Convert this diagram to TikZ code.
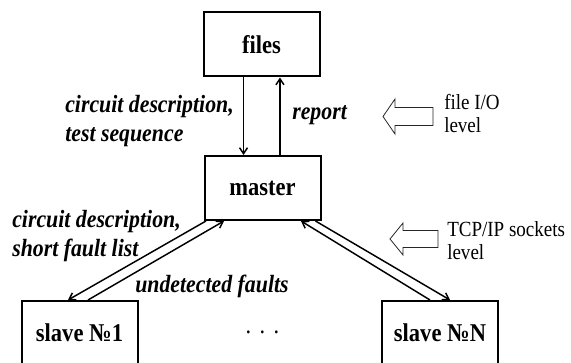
\documentclass[tikz,border=0pt]{standalone}
\usepackage{fontspec}
\setmainfont{Liberation Serif}[FakeStretch=0.88]
\usetikzlibrary{arrows.meta,calc}
\begin{document}
\begin{tikzpicture}[x=0.75pt,y=-0.75pt,
  box/.style={draw, line width=1.5pt, minimum width=87pt, minimum height=48pt, inner sep=0pt,
    font=\fontsize{19.2}{22}\selectfont\bfseries},
  lbl/.style={font=\fontsize{18.6}{21.75}\selectfont\bfseries\itshape, inner sep=0pt, align=left},
  lvl/.style={font=\fontsize{16.2}{17.25}\selectfont, inner sep=0pt, align=left},
  conn/.style={line width=1.1pt, -{Straight Barb[length=4.5pt,width=6pt]}},
  hollow/.style={draw=black!85, line width=0.6pt}]
\useasboundingbox (0,0) rectangle (571,363);
\fill[white] (0,0) rectangle (571,363);
\clip (0,0) rectangle (571,363);

\node[box] (files) at (261.5,44.5) {files};
\node[box] (master) at (262.5,188) {master};
\node[box] (slave1) at (79.5,333) {slave №1};
\node[box] (slaveN) at (440,333) {slave №N};

\draw[conn] ([xshift=-13.5pt]files.south) -- ([xshift=-13.5pt]files.south |- master.north);
\draw[conn] ([xshift=13.1pt]master.north) -- ([xshift=13.1pt]master.north |- files.south);

\draw[conn] ($(master.south west)+(2.5,0)$) -- ($(slave1.north)+(-11.5,0)$);
\draw[conn] ($(slave1.north)+(8.5,0)$) -- ($(master.south west)+(20.5,0)$);
\draw[conn] ($(slaveN.north)+(-10,0)$) -- ($(master.south east)+(-20.5,0)$);
\draw[conn] ($(master.south east)+(-6,0)$) -- ($(slaveN.north)+(10,0)$);

\draw[hollow] (383,116.5) -- (395,99) -- (395,107.5) -- (433,107.5) -- (433,125.5) -- (395,125.5) -- (395,134) -- cycle;
\draw[hollow] (390,239) -- (403,223) -- (403,230.5) -- (438,230.5) -- (438,247.5) -- (403,247.5) -- (403,255) -- cycle;

\node[lbl, anchor=base west] (l1) at (65,142) {circuit description,\\test sequence};
\node[lbl, anchor=base west] (l2) at (292,120) {report};
\node[lbl, anchor=base west] (l3) at (12,257) {circuit description,\\short fault list};
\node[lbl, anchor=base west] (l4) at (135,292) {undetected faults};
\node[lvl, anchor=base west] (l5) at (444,133) {file I/O\\level};
\node[lvl, anchor=base west] (l6) at (447,260) {TCP/IP sockets\\level};
\node[font=\fontsize{19}{20}\selectfont, inner sep=0pt, anchor=base] (dots) at (262.5,333) {.\,\,.\,\,.};
\end{tikzpicture}
\end{document}
